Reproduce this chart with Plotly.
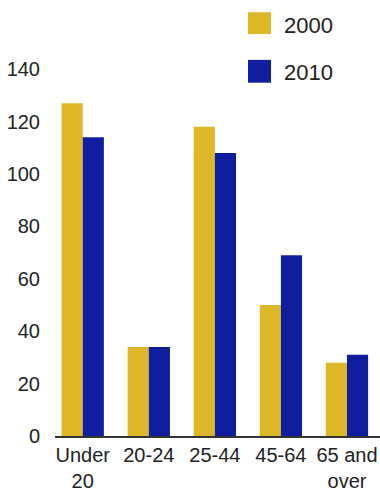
import plotly.graph_objects as go

# Age groups and counts for the two census years
age_groups = ["Under<br>20", "20-24", "25-44", "45-64", "65 and<br>over"]
values_2000 = [127, 34, 118, 50, 28]
values_2010 = [114, 34, 108, 69, 31]
series_names = ["2000", "2010"]
y_ticks = [0, 20, 40, 60, 80, 100, 120, 140]

gold = "#DDB728"
navy = "#0F1E9E"

fig = go.Figure()
fig.add_trace(go.Bar(x=age_groups, y=values_2000, name=series_names[0],
                     marker=dict(color=gold, line=dict(width=0))))
fig.add_trace(go.Bar(x=age_groups, y=values_2010, name=series_names[1],
                     marker=dict(color=navy, line=dict(width=0))))

W, H = 380, 492
left, right, top, bottom = 55, 0, 43, 53
plot_w = W - left - right
plot_h = H - top - bottom


def px_x(x):
    return (x - left) / plot_w


def px_y(y):
    return (H - bottom - y) / plot_h


# Legend drawn as swatches plus labels above the plot area
legend_rows = [(series_names[0], gold, 12, 34, 25), (series_names[1], navy, 60, 83, 73)]
for name, color, y0, y1, yc in legend_rows:
    fig.add_shape(type="rect", xref="paper", yref="paper",
                  x0=px_x(248), x1=px_x(271), y0=px_y(y1), y1=px_y(y0),
                  fillcolor=color, line=dict(width=0))
    fig.add_annotation(xref="paper", yref="paper", x=px_x(282), y=px_y(yc),
                       text=name, showarrow=False, xanchor="left", yanchor="middle",
                       font=dict(family="Liberation Sans Narrow, Liberation Sans", size=22,
                                 color="#222"))

fig.update_layout(
    width=W, height=H,
    margin=dict(l=left, r=right, t=top, b=bottom, pad=0),
    paper_bgcolor="white", plot_bgcolor="white",
    barmode="group", bargap=0.36, bargroupgap=0,
    showlegend=False,
    font=dict(family="Liberation Sans", color="#222"),
    xaxis=dict(range=[-0.42, 4.5], showline=True, linecolor="#333", linewidth=1.5,
               showgrid=False, ticks="", zeroline=False,
               tickfont=dict(family="Liberation Sans Narrow, Liberation Sans", size=20,
                             color="#222")),
    yaxis=dict(range=[0, 150], tickvals=y_ticks, showgrid=False, zeroline=False,
               showline=False, ticks="", ticklabelstandoff=14,
               tickfont=dict(family="Liberation Sans", size=20, color="#222")),
)

fig.write_html("out.html")
